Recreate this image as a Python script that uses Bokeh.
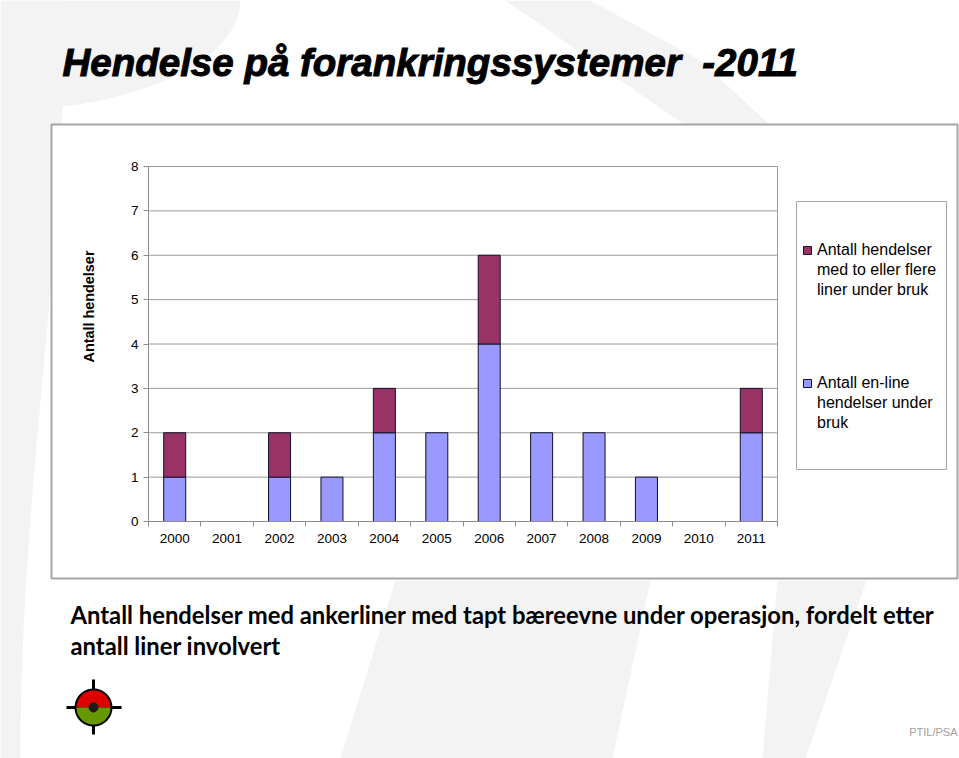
import numpy as np
from bokeh.plotting import figure
from bokeh.models import (ColumnDataSource, Range1d, FixedTicker, Label, BoxAnnotation,
                          PolyAnnotation, Legend, LegendItem, LinearAxis)
from bokeh.embed import file_html
from bokeh.resources import INLINE

# ---------------- data ----------------
years = ["2000", "2001", "2002", "2003", "2004", "2005",
         "2006", "2007", "2008", "2009", "2010", "2011"]
single_line = [1, 0, 1, 1, 2, 2, 4, 2, 2, 1, 0, 2]
multi_line = [1, 0, 1, 0, 1, 0, 2, 0, 0, 0, 0, 1]
y_ticks = [0, 1, 2, 3, 4, 5, 6, 7, 8]

title_text = "Hendelse på forankringssystemer  -2011"
y_label = "Antall hendelser"
legend_multi = ["Antall hendelser", "med to eller flere", "liner under bruk"]
legend_single = ["Antall en-line", "hendelser under", "bruk"]
caption1 = "Antall hendelser med ankerliner med tapt bæreevne under operasjon, fordelt etter"
caption2 = "antall liner involvert"
credit = "PTIL/PSA"

# ---------------- layout (pixels) ----------------
W, H = 959, 758
PL, PR, PT, PB = 148, 777, 166, 521          # plot area in page pixels
n = len(years)
ymax = y_ticks[-1]
ux = (PR - PL) / n
uy = (PB - PT) / ymax
x_range = Range1d(-PL / ux, (W - PL) / ux)
y_range = Range1d(-(H - PB) / uy, PB / uy)


def sx(px):
    return px


def sy(py):
    return H - py


p = figure(width=W, height=H, x_range=x_range, y_range=y_range,
           x_axis_type=None, y_axis_type=None,
           output_backend="svg", toolbar_location=None, min_border=0)
p.background_fill_color = "white"
p.border_fill_color = "white"
p.outline_line_color = None
p.xgrid.visible = False
p.ygrid.visible = False


def screen_poly(xs, ys, color, level="image"):
    p.add_layout(PolyAnnotation(xs=[sx(v) for v in xs], ys=[sy(v) for v in ys],
                                xs_units="screen", ys_units="screen",
                                fill_color=color, fill_alpha=1, line_color=None,
                                level=level))


def screen_line(xs, ys, color, width, level="annotation"):
    p.add_layout(PolyAnnotation(xs=[sx(v) for v in xs], ys=[sy(v) for v in ys],
                                xs_units="screen", ys_units="screen",
                                fill_alpha=0, line_color=color, line_alpha=1,
                                line_width=width, level=level))


# --- background decoration (light grey swooshes) ---
bg = "#f3f3f3"
t = np.linspace(0, 1, 30)
screen_poly(list(np.concatenate([[0], 42 + 22 * np.cos(np.pi * t), [0]])),
            list(np.concatenate([[0], 758 * t, [758]])), bg)
tt = np.linspace(0, np.pi / 2, 20)
screen_poly(list(np.concatenate([[0], 240 * np.cos(tt)])),
            list(np.concatenate([[0], 110 * np.sin(tt)])), bg)
screen_poly([505, 590, 700, 770, 685], [0, 0, 60, 125, 125], bg)
screen_poly([395, 650, 612, 340], [580, 580, 758, 758], bg)
screen_poly([777, 866, 805, 762], [580, 580, 758, 758], bg)

# chart box
p.add_layout(BoxAnnotation(left=sx(51), right=sx(957), top=sy(124), bottom=sy(578),
                           left_units="screen", right_units="screen",
                           top_units="screen", bottom_units="screen",
                           fill_color="white", fill_alpha=1.0,
                           line_color="#a6a6a6", line_alpha=1, line_width=2,
                           level="image"))
# legend box
p.add_layout(BoxAnnotation(left=sx(796), right=sx(946), top=sy(201), bottom=sy(469),
                           left_units="screen", right_units="screen",
                           top_units="screen", bottom_units="screen",
                           fill_alpha=0, line_color="#a6a6a6", line_alpha=1,
                           line_width=1, level="image"))

# grid lines and right edge of the plot area (data coordinates)
p.segment(x0=[0] * len(y_ticks), x1=[n] * len(y_ticks), y0=y_ticks, y1=y_ticks,
          line_color="#9a9a9a", line_width=1, level="underlay")
p.segment(x0=[n], x1=[n], y0=[0], y1=[ymax], line_color="#9a9a9a", line_width=1,
          level="underlay")

# bars
xs = [i + 0.5 for i in range(n)]
s1 = ColumnDataSource(dict(
    x=[x for x, v in zip(xs, single_line) if v > 0],
    top=[v for v in single_line if v > 0]))
s2 = ColumnDataSource(dict(
    x=[x for x, m in zip(xs, multi_line) if m > 0],
    bottom=[v for v, m in zip(single_line, multi_line) if m > 0],
    top=[v + m for v, m in zip(single_line, multi_line) if m > 0]))

r1 = p.vbar(x="x", top="top", bottom=0, width=0.42, source=s1,
            fill_color="#9999ff", line_color="#10102a", line_width=1)
r2 = p.vbar(x="x", top="top", bottom="bottom", width=0.42, source=s2,
            fill_color="#993366", line_color="#10102a", line_width=1)
# invisible renderer used for the continuation lines of the legend texts
r_blank = p.vbar(x=[0], top=[0], width=0.1, fill_alpha=0, line_alpha=0)

# axes drawn at the plot-area position
yax = LinearAxis(fixed_location=0, bounds=(0, ymax), ticker=FixedTicker(ticks=y_ticks))
yax.axis_line_color = "#8c8c8c"
yax.major_tick_line_color = "#8c8c8c"
yax.major_tick_out = 5
yax.major_tick_in = 0
yax.minor_tick_line_color = None
yax.major_label_standoff = 5
yax.major_label_text_font = "Liberation Sans"
yax.major_label_text_font_size = "13.5px"
yax.major_label_text_color = "black"
p.add_layout(yax, "left")

xax = LinearAxis(fixed_location=0, bounds=(0, n),
                 ticker=FixedTicker(ticks=xs, minor_ticks=list(range(n + 1))))
xax.major_label_overrides = {x: y for x, y in zip(xs, years)}
xax.axis_line_color = "#8c8c8c"
xax.major_tick_line_color = None
xax.major_tick_out = 0
xax.major_tick_in = 0
xax.minor_tick_line_color = "#8c8c8c"
xax.minor_tick_out = 5
xax.minor_tick_in = 0
xax.major_label_standoff = 7
xax.major_label_text_font = "Liberation Sans"
xax.major_label_text_font_size = "13.5px"
xax.major_label_text_color = "black"
p.add_layout(xax, "below")

# y-axis title
p.add_layout(Label(x=sx(88), y=sy(306), x_units="screen", y_units="screen",
                   text=y_label, angle=90, angle_units="deg",
                   text_align="center", text_baseline="middle",
                   text_font="Liberation Sans", text_font_style="bold",
                   text_font_size="14.4px", text_color="black"))

# legends (one per series; first line carries the swatch)
for lines, rend, bottom_px in [(legend_multi, r2, 300), (legend_single, r1, 433)]:
    items = [LegendItem(label=lines[0], renderers=[rend])]
    items += [LegendItem(label=ln, renderers=[r_blank]) for ln in lines[1:]]
    p.add_layout(Legend(items=items, location=(sx(802), sy(bottom_px)),
                        orientation="vertical", padding=0, margin=0, spacing=0,
                        border_line_alpha=0, background_fill_alpha=0,
                        glyph_width=10, glyph_height=10, label_height=20,
                        label_standoff=5,
                        label_text_font="Liberation Sans", label_text_font_size="16px",
                        label_text_color="black"))

# title
p.add_layout(Label(x=sx(62), y=sy(62), x_units="screen", y_units="screen",
                   text=title_text.replace("  ", " \u00a0"),
                   text_align="left", text_baseline="middle",
                   text_font="Liberation Sans", text_font_style="bold italic",
                   text_font_size="38.5px", text_color="black",
                   text_outline_color="black"))

# caption
for txt, yy in [(caption1, 614), (caption2, 645)]:
    p.add_layout(Label(x=sx(70), y=sy(yy), x_units="screen", y_units="screen",
                       text=txt, text_align="left", text_baseline="middle",
                       text_font="Lato", text_font_style="bold",
                       text_font_size="23.8px", text_color="black"))

# credit
p.add_layout(Label(x=sx(957), y=sy(731), x_units="screen", y_units="screen",
                   text=credit, text_align="right", text_baseline="middle",
                   text_font="Liberation Sans", text_font_size="11px",
                   text_color="#a0a0a0"))

# logo: crosshair first, then the two halves, ring and centre dot
cx, cy, rad = 93, 707, 18
screen_line([66, 121], [cy, cy], "black", 3)
screen_line([cx, cx], [679, 734], "black", 3)
a = np.linspace(0, np.pi, 40)
screen_poly(list(cx + rad * np.cos(a)), list(cy - rad * np.sin(a)), "#dd0000",
            level="annotation")
screen_poly(list(cx + rad * np.cos(a + np.pi)), list(cy - rad * np.sin(a + np.pi)),
            "#669900", level="annotation")
ring = np.linspace(0, 2 * np.pi, 60)
screen_line(list(cx + rad * np.cos(ring)), list(cy + rad * np.sin(ring)), "black", 2)
dot = np.linspace(0, 2 * np.pi, 24)
p.add_layout(PolyAnnotation(xs=list(sx(cx) + 4.5 * np.cos(dot)),
                            ys=list(sy(cy) + 4.5 * np.sin(dot)),
                            xs_units="screen", ys_units="screen",
                            fill_color="#1a1a1a", fill_alpha=1, line_color="#1a1a1a",
                            line_alpha=1, line_width=1))

open("out.html", "w").write(file_html(p, INLINE))
